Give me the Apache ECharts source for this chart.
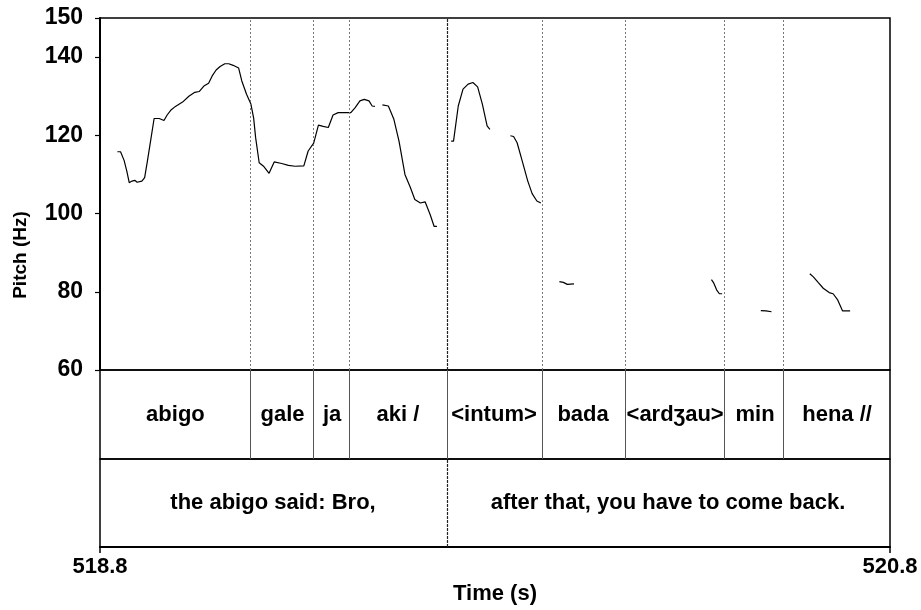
<!DOCTYPE html>
<html>
<head>
<meta charset="utf-8">
<script src="https://cdn.jsdelivr.net/npm/echarts@6/dist/echarts.min.js"></script>
<style>
html,body{margin:0;padding:0;background:#fff;}
#chart{width:921px;height:610px;}
</style>
</head>
<body>
<div id="chart"></div>
<script>
// ---- data ----
const timeRange = [518.8, 520.8];
const xTicks = [518.8, 520.8];
const hzRange = [60, 150];
const yTicks = [60, 80, 100, 120, 140, 150];

// pitch contour (null = unvoiced gap)
const pitchTime = [
  518.844,518.852,518.861,518.868,518.874,518.881,518.888,518.894,518.899,518.906,518.913,518.920,518.928,518.937,518.950,518.962,518.970,518.979,518.991,519.009,519.025,519.040,519.051,519.063,519.075,519.084,519.094,519.104,519.116,519.126,519.137,519.151,519.159,519.171,519.175,519.182,519.189,519.194,519.203,519.214,519.228,519.241,519.260,519.277,519.294,519.316,519.327,519.341,519.353,519.365,519.378,519.390,519.403,519.420,519.435,519.446,519.458,519.469,519.481,519.489,519.496,
  null,
  519.515,519.530,519.544,519.557,519.572,519.586,519.597,519.611,519.623,519.636,519.646,519.653,
  null,
  519.689,519.695,519.707,519.719,519.732,519.744,519.756,519.768,519.780,519.787,
  null,
  519.839,519.847,519.856,519.869,519.883,519.894,519.906,519.916,
  null,
  519.963,519.973,519.983,520.000,
  null,
  520.348,520.354,520.361,520.368,520.375,
  null,
  520.473,520.486,520.500,
  null,
  520.597,520.606,520.618,520.631,520.646,520.656,520.667,520.680,520.699
];
const pitchHz = [
  115.8,115.8,113.6,110.8,107.9,108.3,108.5,108.0,107.5,108.3,109.2,113.4,118.5,124.3,124.3,123.8,125.2,126.4,127.4,128.5,130.0,131.0,131.2,132.6,133.3,135.2,136.7,137.6,138.3,138.3,137.9,137.2,133.9,130.5,130.1,128.0,124.4,119.4,113.0,112.1,110.3,113.2,112.8,112.3,112.1,112.2,116.0,118.0,122.6,122.3,122.0,125.2,125.8,125.8,125.8,127.1,128.8,129.2,128.8,127.5,127.4,
  null,
  127.8,127.5,124.1,118.5,110.0,106.6,103.6,102.7,103.0,99.7,96.7,96.7,
  null,
  118.5,118.5,127.5,131.8,133.1,133.5,132.4,128.0,122.4,121.5,
  null,
  119.9,119.7,118.1,113.4,108.3,105.1,103.2,102.7,
  null,
  82.6,82.4,81.9,82.0,
  null,
  83.1,82.2,80.5,79.5,79.5,
  null,
  75.2,75.1,74.9,
  null,
  84.6,83.8,82.4,80.9,79.8,79.5,78.0,75.1,75.1
];

// tier 1: words
const wordBounds = [518.8, 519.182, 519.342, 519.433, 519.676, 519.919, 520.127, 520.385, 520.532, 520.8];
const wordLabels = ['abigo', 'gale', 'ja', 'aki /', '<intum>', 'bada', '<ard\u0292au>', 'min', 'hena //'];
// tier 2: translation
const phraseBounds = [518.8, 519.676, 520.8];
const phraseLabels = ['the abigo said: Bro,', 'after that, you have to come back.'];

// ---- build ----
const FONT = 'Liberation Sans, Arial, sans-serif';
const pitchData = pitchTime.map((t, i) => (t === null ? ['-', '-'] : [t, pitchHz[i]]));

function tierItems(bounds, labels) {
  return labels.map((name, i) => ({ name: name, value: [(bounds[i] + bounds[i + 1]) / 2, 0.5] }));
}
function innerLines(bounds) {
  return bounds.slice(1, -1).map(b => ({ xAxis: b }));
}

const chart = echarts.init(document.getElementById('chart'), null, { renderer: 'canvas' });
const gridBase = { left: 100, width: 790, show: true, borderColor: '#000', borderWidth: 1.5, backgroundColor: 'transparent' };
const labelStyle = { color: '#000', fontSize: 22, fontWeight: 'bold', fontFamily: FONT, opacity: 1 };

chart.setOption({
  animation: false,
  backgroundColor: '#fff',
  textStyle: { fontFamily: FONT },
  grid: [
    Object.assign({}, gridBase, { top: 18, height: 352 }),
    Object.assign({}, gridBase, { top: 370, height: 89 }),
    Object.assign({}, gridBase, { top: 459, height: 88 })
  ],
  xAxis: [
    { gridIndex: 0, type: 'value', min: timeRange[0], max: timeRange[1], show: false },
    { gridIndex: 1, type: 'value', min: timeRange[0], max: timeRange[1], show: false },
    {
      gridIndex: 2, type: 'value', min: timeRange[0], max: timeRange[1], position: 'bottom',
      axisLine: { show: true, lineStyle: { color: '#000', width: 2 } },
      axisTick: { show: true, customValues: xTicks, length: 6, lineStyle: { color: '#000', width: 1.5 } },
      axisLabel: { show: true, customValues: xTicks, formatter: v => v.toFixed(1), color: '#000', fontSize: 22, fontWeight: 'bold', fontFamily: FONT, margin: 9 },
      splitLine: { show: false },
      name: 'Time (s)', nameLocation: 'middle', nameGap: 36,
      nameTextStyle: { color: '#000', fontSize: 22, fontWeight: 'bold', fontFamily: FONT }
    }
  ],
  yAxis: [
    {
      gridIndex: 0, type: 'value', min: hzRange[0], max: hzRange[1],
      axisLine: { show: true, lineStyle: { color: '#000', width: 2 } },
      axisTick: { show: true, customValues: yTicks, length: 5, lineStyle: { color: '#000', width: 1.2 } },
      axisLabel: { show: true, customValues: yTicks, color: '#000', fontSize: 23, fontWeight: 'bold', fontFamily: FONT, margin: 17 },
      splitLine: { show: false }
    },
    { gridIndex: 1, type: 'value', min: 0, max: 1, show: false },
    { gridIndex: 2, type: 'value', min: 0, max: 1, show: false }
  ],
  graphic: [
    {
      type: 'text', x: 21, y: 255, rotation: Math.PI / 2,
      style: { text: 'Pitch (Hz)', fill: '#000', font: 'bold 19px ' + FONT, textAlign: 'center', textVerticalAlign: 'middle' }
    }
  ],
  series: [
    {
      type: 'line', xAxisIndex: 0, yAxisIndex: 0, data: pitchData,
      showSymbol: false, connectNulls: false, silent: true,
      lineStyle: { color: '#000', width: 1.2 },
      markLine: {
        silent: true, symbol: 'none', label: { show: false },
        data: wordBounds.slice(1, -1).map(b => ({
          xAxis: b,
          lineStyle: b === phraseBounds[1]
            ? { color: '#222', width: 1.2, type: [3, 1] }
            : { color: '#777', width: 1, type: [2, 2] }
        }))
      }
    },
    {
      type: 'scatter', xAxisIndex: 1, yAxisIndex: 1, symbolSize: 0, silent: true,
      itemStyle: { opacity: 1 },
      data: tierItems(wordBounds, wordLabels),
      label: Object.assign({ show: true, position: 'inside', formatter: p => p.name }, labelStyle),
      markLine: {
        silent: true, symbol: 'none', label: { show: false },
        lineStyle: { color: '#555', width: 1, type: 'solid' },
        data: innerLines(wordBounds)
      }
    },
    {
      type: 'scatter', xAxisIndex: 2, yAxisIndex: 2, symbolSize: 0, silent: true,
      itemStyle: { opacity: 1 },
      data: tierItems(phraseBounds, phraseLabels),
      label: Object.assign({ show: true, position: 'inside', formatter: p => p.name }, labelStyle),
      markLine: {
        silent: true, symbol: 'none', label: { show: false },
        lineStyle: { color: '#222', width: 1.2, type: [3, 1] },
        data: innerLines(phraseBounds)
      }
    }
  ]
});
</script>
</body>
</html>
